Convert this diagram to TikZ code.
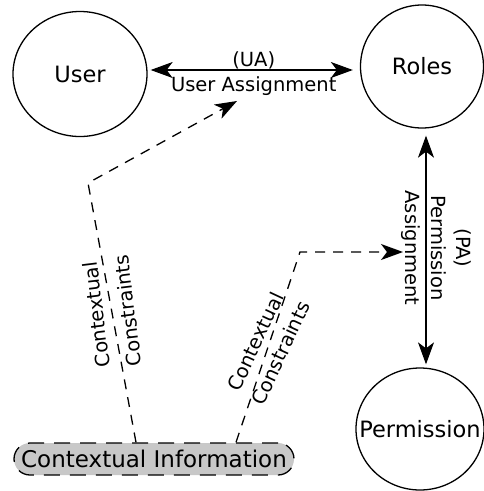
\documentclass[tikz,border=0pt]{standalone}
\usepackage{fontspec}
\setmainfont{DejaVu Sans}
\usetikzlibrary{arrows.meta,shapes.geometric}
\definecolor{cigray}{RGB}{200,200,200}
\begin{document}
\begin{tikzpicture}[x=1pt,y=-1pt,
  state/.style={ellipse, draw, line width=1.3pt, inner sep=0pt, font=\fontsize{22.5}{27}\selectfont},
  lbl/.style={font=\fontsize{19.5}{25}\selectfont, inner sep=1.5pt},
  bigarr/.style={line width=1.3pt, {Stealth[length=22pt,width=16pt,inset=6pt]}-{Stealth[length=22pt,width=16pt,inset=6pt]}},
  dashline/.style={line width=1.3pt, dash pattern=on 10pt off 8pt, -{Stealth[length=22pt,width=16pt,inset=6pt]}}]
\useasboundingbox (0,0) rectangle (483,491);
\node[state, minimum width=134pt, minimum height=125pt] (User) at (80,74) {\makebox[0pt]{User}};
\node[state, minimum width=123pt, minimum height=123pt] (Roles) at (422,66.5) {\makebox[0pt]{Roles}};
\node[state, minimum width=128pt, minimum height=122pt] (Perm) at (420,429) {\makebox[0pt]{Permission}};
\node[draw, line width=1.3pt, dash pattern=on 16pt off 10pt, rounded corners=16pt, fill=cigray,
  minimum width=280pt, minimum height=32pt, inner sep=0pt, font=\fontsize{23}{27}\selectfont]
  (CI) at (154,459) {\makebox[0pt]{Contextual Information}};
\coordinate (c1) at (88,183);
\coordinate (t1) at (237,101);
\coordinate (c2) at (300,252);
\coordinate (t2) at (403,252);
\draw[bigarr, shorten <=3pt, shorten >=7pt] ([yshift=4pt]User.east) --
  node[lbl, above, inner sep=0.5pt]{(UA)} node[lbl, below, inner sep=6pt]{User Assignment}
  ([yshift=-3.5pt]Roles.west);
\draw[bigarr, shorten <=7pt, shorten >=3pt] ([xshift=4pt]Roles.south) --
  node[lbl, rotate=-90, anchor=south, align=center, inner sep=5pt]{(PA)\\Permission}
  node[lbl, rotate=-90, anchor=north, inner sep=5pt]{Assignment}
  ([xshift=6pt]Perm.north);
\draw[dashline] ([xshift=-18pt]CI.north) --
  node[lbl, rotate=97, align=center]{Contextual\\[6.6pt]Constraints} (c1) -- (t1);
\draw[dashline] ([xshift=82pt]CI.north) --
  node[lbl, rotate=65, align=center]{Contextual\\[2.6pt]Constraints} (c2) -- (t2);
\end{tikzpicture}
\end{document}
